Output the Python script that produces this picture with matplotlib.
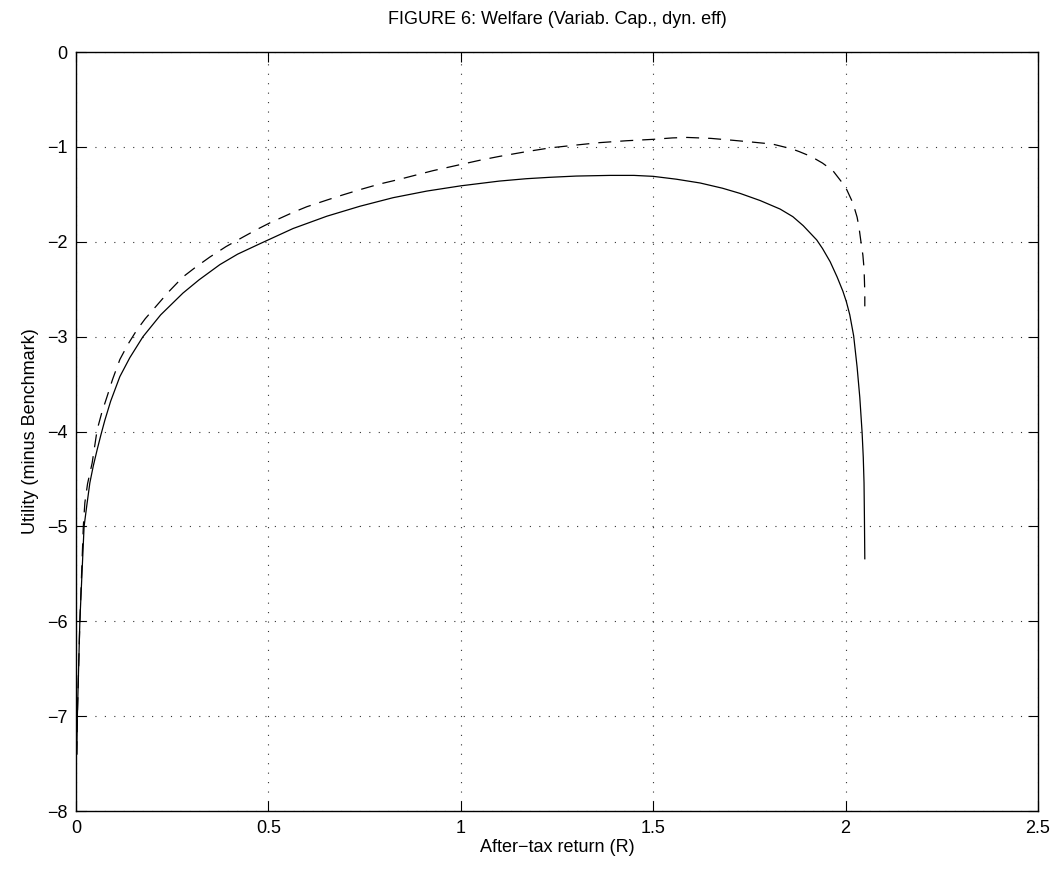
import numpy as np
import matplotlib.pyplot as plt

plt.rcParams['font.family'] = ['Liberation Sans', 'DejaVu Sans']

# welfare curve, variable capital (solid)
r_solid = [0.002, 0.0035, 0.010, 0.021, 0.028, 0.036, 0.045, 0.055, 0.065,
           0.075, 0.09, 0.114, 0.14, 0.174, 0.22, 0.278, 0.32, 0.374, 0.42,
           0.478, 0.564, 0.652, 0.738, 0.824, 0.912, 1.0, 1.05, 1.10, 1.17,
           1.232, 1.30, 1.388, 1.45, 1.5, 1.56, 1.622, 1.68, 1.726, 1.778,
           1.83, 1.863, 1.89, 1.925, 1.94, 1.96, 1.978, 1.993, 2.002, 2.011,
           2.021, 2.03, 2.037, 2.043, 2.046, 2.048, 2.049, 2.05]
u_solid = [-7.4, -7.0, -6.0, -5.0, -4.78, -4.54, -4.36, -4.19, -4.03,
           -3.88, -3.68, -3.42, -3.22, -3.0, -2.77, -2.54, -2.40, -2.24, -2.13,
           -2.02, -1.86, -1.73, -1.625, -1.535, -1.465, -1.41, -1.385, -1.36,
           -1.335, -1.32, -1.307, -1.30, -1.30, -1.31, -1.34, -1.38, -1.435,
           -1.49, -1.565, -1.655, -1.735, -1.83, -1.98, -2.07, -2.21, -2.37,
           -2.52, -2.63, -2.77, -2.99, -3.32, -3.64, -4.01, -4.27, -4.54,
           -4.9, -5.34]

# dynamic efficiency case (dashed)
r_dash = [0.002, 0.0035, 0.010, 0.019, 0.023, 0.03, 0.042, 0.055, 0.067,
          0.08, 0.095, 0.114, 0.135, 0.158, 0.18, 0.21, 0.24, 0.278, 0.31,
          0.348, 0.39, 0.434, 0.47, 0.504, 0.564, 0.60, 0.652, 0.69, 0.738,
          0.79, 0.842, 0.88, 0.928, 1.0, 1.05, 1.10, 1.17, 1.232, 1.30, 1.36,
          1.43, 1.5, 1.55, 1.588, 1.65, 1.707, 1.76, 1.81, 1.84, 1.86, 1.88,
          1.91, 1.94, 1.967, 1.988, 2.003, 2.019, 2.03, 2.035, 2.04, 2.045,
          2.048, 2.049, 2.05, 2.05]
u_dash = [-7.4, -7.0, -6.0, -5.0, -4.75, -4.55, -4.33, -3.98, -3.80,
          -3.64, -3.45, -3.24, -3.08, -2.93, -2.81, -2.67, -2.53, -2.37, -2.27,
          -2.16, -2.05, -1.95, -1.87, -1.80, -1.69, -1.63, -1.56, -1.51, -1.45,
          -1.39, -1.34, -1.30, -1.25, -1.185, -1.14, -1.10, -1.05, -1.01, -0.98,
          -0.955, -0.935, -0.92, -0.905, -0.90, -0.91, -0.93, -0.95, -0.97, -1.0,
          -1.02, -1.05, -1.10, -1.17, -1.25, -1.36, -1.45, -1.59, -1.74, -1.85,
          -2.0, -2.14, -2.28, -2.4, -2.54, -2.68]

fig = plt.figure(figsize=(10.6, 8.76), dpi=100)
ax = fig.add_axes([0.0717, 0.074, 0.9075, 0.8666])

ax.plot(r_solid, u_solid, color='black', lw=0.9)
ax.plot(r_dash, u_dash, color='black', lw=0.9, dashes=(10.4, 7.2))

ax.set_xlim(0, 2.5)
ax.set_ylim(-8, 0)
ax.set_xticks([0, 0.5, 1, 1.5, 2, 2.5])
ax.set_xticklabels(['0', '0.5', '1', '1.5', '2', '2.5'])
ax.set_yticks(np.arange(-8, 1, 1))
ax.set_yticklabels(['\u22128', '\u22127', '\u22126', '\u22125', '\u22124',
                    '\u22123', '\u22122', '\u22121', '0'])
ax.grid(True, color='#333333', lw=0.8, linestyle=(0, (1, 7.5)))
ax.tick_params(direction='in', length=7, width=0.8, labelsize=13,
               top=True, right=True, pad=6)
for s in ax.spines.values():
    s.set_linewidth(1.0)

ax.set_title('FIGURE 6: Welfare (Variab. Cap., dyn. eff)', fontsize=13, pad=20)
ax.set_xlabel('After\u2212tax return (R)', fontsize=13, labelpad=2)
ax.set_ylabel('Utility (minus Benchmark)', fontsize=13, labelpad=6)

fig.savefig('out.png', dpi=100)
